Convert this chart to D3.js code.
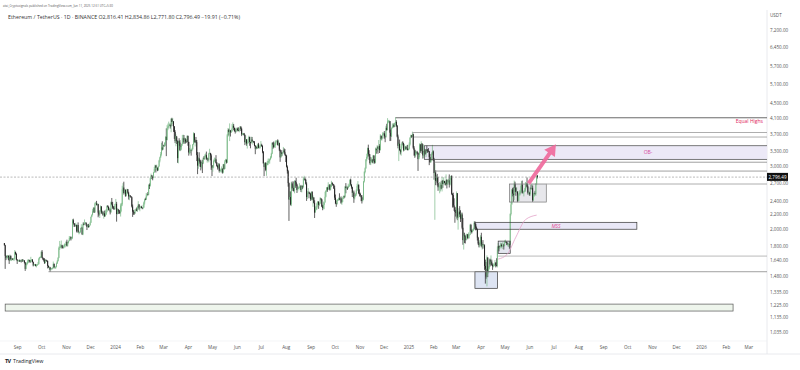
<!DOCTYPE html>
<html>
<head>
<meta charset="utf-8">
<script src="https://cdn.jsdelivr.net/npm/d3@7"></script>
<style>
  body { margin: 0; background: #fff; }
  svg { display: block; font-family: "Open Sans", "Noto Sans", sans-serif; }
</style>
</head>
<body>
<div id="chart"></div>
<script>
// ETH/USDT daily candles, 2023-08-16 .. 2025-06-11 (one line per month)
var firstDay = "2023-08-16";
var firstOpen = 1830;

var closes = [
  1805,1685,1665,1670,1685,1670,1635,1685,1650,1655,1645,1655,1655,1730,1705,1645,
  1630,1635,1635,1630,1635,1632,1645,1635,1635,1615,1550,1590,1605,1625,1640,1635,1620,1640,1645,1620,1585,1595,1595,1580,1585,1595,1600,1655,1670,1670,
  1730,1665,1655,1645,1610,1645,1635,1630,1580,1565,1565,1540,1550,1555,1560,1600,1565,1565,1570,1605,1630,1665,1775,1785,1790,1805,1780,1775,1795,1810,1815,
  1845,1800,1830,1855,1890,1900,1885,1890,2120,2080,2055,2045,2055,1980,2055,1960,1960,1965,2015,2020,1935,2065,2060,2080,2085,2060,2030,2045,2030,2050,
  2085,2165,2195,2245,2295,2230,2360,2360,2340,2350,2225,2200,2255,2315,2220,2230,2195,2215,2175,2200,2240,2325,2310,2265,2270,2230,2380,2345,2300,2290,2280,
  2350,2355,2205,2270,2265,2240,2220,2330,2345,2585,2615,2525,2575,2475,2510,2585,2530,2470,2490,2470,2455,2315,2240,2235,2215,2265,2270,2255,2315,2345,2285,
  2305,2310,2295,2290,2300,2375,2425,2420,2485,2505,2500,2660,2645,2775,2825,2805,2785,2880,2945,3015,2970,2970,2920,2995,3110,3175,3240,3385,3340,
  3430,3420,3485,3625,3550,3815,3870,3890,3910,3875,4065,3985,4000,3875,3735,3525,3640,3520,3160,3520,3490,3330,3390,3455,3590,3590,3495,3560,3515,3505,3645,
  3505,3275,3310,3330,3320,3350,3450,3700,3505,3545,3500,3220,3010,3155,3100,3085,2985,3065,3055,3155,3145,3200,3220,3140,3155,3130,3255,3260,3215,3015,
  2970,2990,3100,3120,3135,3065,3005,2975,3035,2910,2910,2930,2950,2880,3035,2945,3090,3125,3070,3660,3790,3735,3780,3725,3750,3825,3890,3840,3765,3745,3760,
  3815,3780,3765,3810,3865,3810,3680,3680,3705,3665,3500,3560,3470,3480,3565,3620,3505,3480,3560,3515,3520,3495,3420,3355,3395,3370,3450,3375,3380,3430,
  3440,3415,3295,3055,2985,3065,2930,3020,3065,3100,3100,3135,3175,3250,3485,3445,3390,3430,3505,3520,3535,3440,3480,3335,3175,3275,3250,3270,3320,3280,3230,
  3205,2990,2905,2690,2420,2460,2345,2685,2600,2610,2555,2720,2705,2665,2575,2595,2615,2620,2640,2575,2630,2625,2765,2765,2745,2680,2460,2525,2530,2525,2515,
  2425,2540,2425,2450,2370,2225,2270,2300,2360,2390,2340,2360,2440,2420,2315,2295,2340,2375,2465,2560,2615,2580,2650,2655,2580,2630,2695,2675,2655,2600,
  2450,2365,2350,2415,2415,2440,2420,2440,2370,2385,2440,2475,2465,2630,2605,2610,2605,2640,2645,2750,2665,2620,2525,2535,2440,2480,2505,2565,2640,2660,2520,
  2510,2490,2455,2400,2420,2720,2890,2960,3130,3185,3370,3245,3185,3060,3105,3130,3075,3210,3105,3070,3355,3325,3390,3360,3415,3325,3650,3575,3595,3700,
  3705,3640,3615,3840,3785,4000,4005,4005,3720,3635,3835,3885,3910,3865,3960,3985,3890,3630,3420,3465,3330,3280,3410,3490,3485,3330,3330,3400,3350,3360,3330,
  3355,3450,3605,3655,3630,3685,3380,3325,3215,3265,3280,3265,3140,3225,3450,3310,3470,3310,3215,3280,3325,3240,3335,3315,3310,3300,3180,3080,3115,3250,3300,
  3130,2870,2880,2730,2785,2690,2620,2630,2630,2660,2600,2735,2675,2725,2695,2660,2745,2670,2720,2740,2665,2765,2815,2510,2490,2330,2310,2235,
  2225,2520,2155,2170,2240,2200,2140,2200,2020,1865,1920,1910,1865,1910,1935,1890,1925,1930,2055,1980,1965,1985,2005,2080,2065,2010,2000,1895,1825,1805,1820,
  1905,1795,1815,1805,1805,1580,1550,1475,1670,1520,1565,1645,1595,1625,1590,1575,1585,1585,1615,1585,1580,1755,1795,1770,1785,1810,1795,1800,1800,1795,
  1840,1840,1835,1810,1815,1815,1810,2205,2345,2580,2515,2490,2680,2610,2545,2545,2400,2500,2525,2530,2550,2665,2525,2530,2550,2565,2660,2680,2630,2530,2530,
  2505,2605,2595,2610,2410,2485,2525,2510,2680,2816.41,2796.49
];

var highs = [
  1830,1810,1690,1690,1695,1690,1690,1700,1690,1665,1660,1660,1665,1750,1730,1715,
  1650,1640,1645,1645,1640,1645,1650,1650,1640,1640,1620,1615,1615,1645,1650,1645,1640,1675,1650,1650,1625,1600,1600,1600,1595,1600,1620,1665,1675,1680,
  1735,1750,1670,1660,1660,1650,1640,1640,1635,1585,1575,1570,1560,1560,1565,1625,1605,1580,1575,1615,1640,1670,1790,1855,1815,1860,1810,1790,1810,1825,1820,
  1850,1870,1835,1860,1915,1910,1910,1900,2135,2140,2080,2070,2085,2060,2060,2090,1985,1970,2020,2065,2030,2090,2090,2130,2095,2090,2065,2070,2070,2055,
  2100,2170,2200,2275,2300,2305,2375,2385,2400,2365,2355,2240,2260,2330,2320,2255,2250,2220,2255,2260,2275,2330,2335,2315,2295,2285,2390,2445,2385,2320,2320,
  2355,2430,2385,2290,2280,2265,2255,2360,2370,2645,2690,2715,2585,2585,2545,2595,2590,2545,2500,2480,2475,2465,2345,2265,2240,2275,2285,2300,2325,2395,2350,
  2310,2325,2325,2305,2340,2390,2435,2450,2525,2515,2540,2670,2685,2790,2860,2835,2805,2890,2985,3030,3015,3030,2975,3000,3125,3190,3285,3485,3520,
  3450,3440,3500,3630,3825,3905,3945,3995,3945,3945,4085,4095,4085,4010,3880,3780,3680,3610,3540,3535,3590,3545,3430,3465,3665,3675,3665,3610,3590,3565,3655,
  3650,3510,3370,3445,3340,3375,3460,3730,3715,3560,3620,3550,3285,3175,3280,3125,3125,3095,3125,3175,3200,3235,3255,3295,3175,3165,3270,3355,3270,3250,
  3020,3015,3130,3170,3165,3220,3080,3025,3060,3055,2940,2955,2995,2960,3045,3040,3120,3145,3135,3690,3835,3815,3950,3770,3800,3935,3975,3935,3840,3820,3845,
  3835,3845,3850,3830,3885,3880,3840,3715,3710,3715,3680,3655,3570,3520,3580,3650,3625,3510,3625,3620,3550,3525,3525,3435,3430,3410,3470,3485,3410,3455,
  3525,3465,3430,3305,3050,3080,3075,3065,3105,3150,3150,3150,3200,3270,3495,3500,3515,3485,3540,3540,3545,3565,3545,3490,3340,3290,3325,3285,3395,3365,3350,
  3240,3220,3015,2930,2700,2555,2550,2710,2720,2650,2720,2740,2735,2785,2680,2640,2630,2690,2650,2660,2650,2650,2795,2820,2790,2765,2705,2555,2605,2550,2540,
  2520,2550,2555,2485,2460,2410,2315,2325,2375,2400,2390,2375,2460,2440,2430,2340,2390,2380,2545,2570,2620,2625,2705,2670,2675,2670,2730,2705,2680,2670,
  2645,2500,2405,2425,2430,2450,2520,2460,2470,2415,2465,2480,2485,2640,2690,2645,2630,2680,2660,2755,2770,2670,2630,2560,2565,2490,2520,2585,2680,2725,2670,
  2585,2530,2480,2490,2465,2725,2905,2975,3140,3250,3380,3445,3325,3240,3125,3175,3140,3225,3220,3140,3380,3360,3430,3420,3550,3455,3685,3650,3615,3735,
  3725,3760,3675,3890,3940,4085,4035,4040,4010,3795,3850,3945,3955,3945,3970,4107,4030,3910,3675,3495,3560,3350,3460,3510,3520,3460,3455,3420,3410,3435,3440,
  3360,3495,3610,3675,3660,3745,3700,3415,3340,3320,3300,3310,3280,3240,3475,3455,3520,3475,3450,3450,3360,3350,3350,3425,3350,3370,3310,3245,3165,3280,3440,
  3320,3165,3050,2920,2830,2855,2800,2660,2710,2700,2730,2795,2740,2795,2730,2720,2845,2760,2735,2770,2845,2780,2820,2830,2520,2530,2440,2300,
  2265,2550,2525,2220,2290,2320,2260,2225,2225,2150,1960,1955,1925,1940,1945,1940,1960,1935,2070,2070,1995,2000,2020,2105,2105,2075,2035,2010,1905,1845,1865,
  1925,1955,1840,1865,1820,1815,1645,1620,1690,1665,1575,1655,1655,1690,1645,1605,1605,1600,1640,1615,1660,1790,1830,1800,1805,1835,1825,1835,1840,1820,
  1860,1870,1850,1845,1835,1830,1850,2215,2385,2590,2610,2620,2735,2715,2615,2620,2555,2510,2555,2575,2650,2725,2735,2560,2565,2605,2710,2690,2790,2650,2550,
  2545,2620,2660,2680,2650,2525,2535,2560,2690,2840,2834.86
];

var lows = [
  1800,1550,1640,1650,1660,1640,1600,1630,1640,1630,1640,1640,1630,1645,1695,1640,
  1600,1625,1625,1620,1620,1615,1620,1620,1630,1605,1530,1545,1585,1600,1610,1625,1610,1615,1625,1615,1575,1580,1585,1575,1565,1580,1590,1595,1645,1665,
  1670,1660,1640,1625,1600,1605,1630,1620,1555,1560,1545,1521,1535,1545,1545,1555,1555,1555,1550,1565,1600,1625,1660,1750,1770,1770,1765,1770,1765,1780,1780,
  1800,1790,1790,1825,1850,1870,1860,1870,1880,2070,2030,2030,2040,1960,1975,1955,1935,1945,1955,2010,1930,1925,2050,2055,2075,2045,1990,2020,2020,2025,
  2050,2085,2160,2185,2225,2220,2225,2350,2330,2330,2160,2180,2150,2240,2205,2215,2180,2140,2165,2170,2190,2230,2295,2255,2255,2200,2225,2330,2280,2270,2265,
  2265,2345,2100,2200,2205,2210,2205,2170,2240,2320,2555,2500,2515,2465,2470,2500,2515,2420,2410,2455,2450,2300,2165,2195,2195,2205,2250,2245,2235,2300,2265,
  2245,2290,2290,2275,2275,2295,2345,2410,2415,2470,2485,2490,2590,2630,2765,2760,2740,2775,2875,2900,2880,2925,2905,2915,2990,3075,3165,3210,3320,
  3335,3395,3400,3420,3200,3540,3780,3830,3885,3820,3730,3880,3935,3740,3575,3480,3410,3460,3065,3055,3420,3305,3310,3335,3420,3555,3460,3465,3470,3490,3495,
  3420,3210,3240,3260,3210,3300,3335,3445,3485,3405,3480,3100,2850,2950,3050,2990,2920,2955,2870,3040,3125,3130,3175,3120,3070,3100,3075,3245,3115,2930,
  2815,2895,2960,3085,3070,3050,2990,2935,2955,2880,2880,2900,2880,2860,2865,2935,2950,3085,3050,3060,3625,3655,3525,3630,3720,3750,3815,3780,3745,3700,3725,
  3755,3755,3755,3730,3780,3760,3640,3670,3665,3650,3435,3460,3420,3360,3470,3540,3420,3365,3470,3495,3445,3490,3410,3240,3335,3350,3355,3365,3365,3360,
  3425,3395,3260,3050,2815,2975,2905,2820,3020,3020,3050,3050,3125,3155,3240,3350,3375,3390,3375,3490,3445,3425,3420,3305,3085,3170,3195,3210,3300,3250,3210,
  3080,2975,2860,2630,2110,2420,2330,2320,2560,2580,2550,2520,2610,2640,2525,2550,2590,2600,2570,2540,2535,2590,2610,2745,2730,2665,2400,2430,2515,2440,2505,
  2400,2410,2410,2310,2360,2150,2240,2260,2270,2330,2280,2325,2350,2405,2305,2260,2275,2275,2375,2455,2540,2545,2575,2590,2565,2570,2620,2650,2645,2590,
  2415,2350,2310,2345,2400,2405,2410,2410,2355,2340,2380,2430,2440,2450,2520,2585,2575,2600,2625,2630,2645,2595,2460,2475,2370,2420,2465,2480,2555,2615,2505,
  2470,2470,2395,2360,2390,2415,2700,2865,2950,3095,3150,3210,3125,3030,3020,3085,3060,3040,3070,3045,3065,3250,3290,3250,3335,3265,3320,3545,3540,3580,
  3660,3580,3500,3605,3765,3785,3965,3950,3525,3530,3620,3820,3835,3850,3860,3905,3865,3610,3365,3100,3310,3235,3210,3365,3435,3300,3320,3325,3330,3325,3320,
  3320,3335,3425,3590,3600,3620,3355,3210,3165,3185,3230,3240,2910,3135,3175,3270,3300,3250,3150,3160,3200,3235,3180,3270,3270,3295,3020,3070,3065,3100,3230,
  3100,2750,2125,2655,2715,2650,2560,2575,2520,2550,2585,2550,2610,2665,2690,2650,2650,2600,2665,2700,2615,2650,2745,2490,2300,2300,2250,2085,
  2170,2140,2120,1995,2145,2165,2095,2140,2000,1810,1755,1830,1825,1860,1905,1875,1885,1885,1925,1960,1945,1960,1975,2000,2035,1985,1995,1860,1810,1780,1780,
  1800,1780,1755,1765,1780,1540,1410,1455,1385,1470,1505,1545,1575,1600,1580,1540,1565,1575,1580,1565,1575,1565,1745,1735,1760,1780,1780,1760,1785,1755,
  1795,1830,1830,1805,1790,1785,1765,1810,2185,2345,2470,2385,2415,2545,2480,2525,2380,2390,2400,2480,2500,2550,2515,2515,2470,2545,2545,2600,2620,2500,2500,
  2480,2480,2580,2590,2385,2400,2465,2490,2480,2655,2771.80
];

var priceTicks = [7200, 6450, 5700, 5100, 4500, 4100, 3700, 3300, 3000, 2700, 2400, 2200, 2000, 1800, 1640, 1480, 1335, 1225, 1135, 1035];
var lastPrice = 2796.49;

// drawings: horizontal levels [from, price] (run to the right edge)
var levels = [
  ["2023-10-10", 1522],
  ["2024-12-16", 4095],
  ["2025-01-06", 3725],
  ["2025-01-08", 3618],
  ["2025-02-03", 3077],
  ["2025-02-03", 2907],
  ["2025-06-22", 2675],
  ["2025-04-23", 1683]
];
// boxes [from, to, top, bottom]; to = null means right edge
var zones = [
  ["2023-08-17", "2026-02-10", 1236, 1182],
  ["2025-01-21", null, 3421, 3135],
  ["2025-03-25", "2025-10-13", 2091, 2000],
  ["2025-03-25", "2025-04-22", 1522, 1368],
  ["2025-04-23", "2025-05-08", 1853, 1713],
  ["2025-05-07", "2025-06-22", 2675, 2382]
];
var curvePoints = [["2025-04-23", 1651], ["2025-05-04", 1700], ["2025-05-15", 1900], ["2025-05-27", 2127], ["2025-06-10", 2190]];
var arrowFrom = ["2025-05-31", 2686];
var arrowTo = ["2025-07-04", 3452];

// ---------------------------------------------------------------
var width = 800, height = 370;
var plotRight = 767, plotTop = 10, plotBottom = 341;

var svg = d3.select("#chart").append("svg")
  .attr("width", width)
  .attr("height", height);

var parseDay = d3.utcParse("%Y-%m-%d");
var start = parseDay(firstDay);

// crypto trades 24/7, so each daily open is the previous close
var candles = closes.map(function(c, i) {
  return {
    date: d3.utcDay.offset(start, i),
    open: i ? closes[i - 1] : firstOpen,
    high: highs[i],
    low: lows[i],
    close: c
  };
});

var x = d3.scaleUtc()
  .domain([parseDay("2024-01-01"), parseDay("2026-01-01")])
  .range([115, 701]);

var y = d3.scaleLog()
  .domain([1035, 7200])
  .range([331.7, 30]);

svg.append("defs").append("clipPath").attr("id", "clip")
  .append("rect")
  .attr("x", 0).attr("y", plotTop)
  .attr("width", plotRight).attr("height", plotBottom - plotTop);

// frame
svg.append("line").attr("x1", plotRight).attr("x2", plotRight).attr("y1", plotTop).attr("y2", 354)
  .attr("stroke", "#e3e5ea").attr("stroke-width", 0.8);
svg.append("line").attr("x1", 0).attr("x2", plotRight).attr("y1", plotBottom).attr("y2", plotBottom)
  .attr("stroke", "#eceef2").attr("stroke-width", 0.6);
svg.append("line").attr("x1", 0).attr("x2", width).attr("y1", 354).attr("y2", 354)
  .attr("stroke", "#e3e5ea").attr("stroke-width", 0.8);

var plot = svg.append("g").attr("clip-path", "url(#clip)");

var zoneFill = ["#eef5ec", "#ece9f7", "#e9e8f7", "#dde4f3", "#e3e6ef", "#e7e7eb"];
var zoneStroke = ["#555", "#444", "#333", "#333", "#333", "#777"];

function zx(v) { return v === null ? plotRight + 2 : x(parseDay(v)); }

plot.append("g")
  .selectAll("rect")
  .data(zones)
  .enter()
  .append("rect")
  .attr("x", function(d) { return zx(d[0]); })
  .attr("y", function(d) { return y(d[2]); })
  .attr("width", function(d) { return zx(d[1]) - zx(d[0]); })
  .attr("height", function(d) { return y(d[3]) - y(d[2]); })
  .attr("fill", function(d, i) { return zoneFill[i]; });

// candles
var upColor = "#79b986", downColor = "#1c1c1c";
function colorOf(d) { return d.close >= d.open ? upColor : downColor; }

plot.append("g")
  .selectAll("line")
  .data(candles)
  .enter()
  .append("line")
  .attr("x1", function(d) { return x(d.date); })
  .attr("x2", function(d) { return x(d.date); })
  .attr("y1", function(d) { return y(d.high); })
  .attr("y2", function(d) { return y(d.low); })
  .attr("stroke", colorOf)
  .attr("stroke-width", 0.7);

plot.append("g")
  .selectAll("rect")
  .data(candles)
  .enter()
  .append("rect")
  .attr("x", function(d) { return x(d.date) - 0.45; })
  .attr("width", 0.9)
  .attr("y", function(d) { return y(Math.max(d.open, d.close)); })
  .attr("height", function(d) { return Math.max(0.6, Math.abs(y(d.open) - y(d.close))); })
  .attr("fill", colorOf);

// zone borders on top
plot.append("g")
  .selectAll("rect")
  .data(zones)
  .enter()
  .append("rect")
  .attr("x", function(d) { return zx(d[0]); })
  .attr("y", function(d) { return y(d[2]); })
  .attr("width", function(d) { return zx(d[1]) - zx(d[0]); })
  .attr("height", function(d) { return y(d[3]) - y(d[2]); })
  .attr("fill", "none")
  .attr("stroke", function(d, i) { return zoneStroke[i]; })
  .attr("stroke-width", 0.7);

var levelColors = ["#888", "#444", "#999", "#999", "#888", "#888", "#999", "#aaa"];
plot.append("g")
  .selectAll("line")
  .data(levels)
  .enter()
  .append("line")
  .attr("x1", function(d) { return x(parseDay(d[0])); })
  .attr("x2", plotRight)
  .attr("y1", function(d) { return y(d[1]); })
  .attr("y2", function(d) { return y(d[1]); })
  .attr("stroke", function(d, i) { return levelColors[i]; })
  .attr("stroke-width", 0.8);

// current price dashed line
plot.append("line")
  .attr("x1", 0).attr("x2", plotRight)
  .attr("y1", y(lastPrice)).attr("y2", y(lastPrice))
  .attr("stroke", "#8a8a8a")
  .attr("stroke-width", 0.6)
  .attr("stroke-dasharray", "2,1.5");

// pink curve
plot.append("path")
  .datum(curvePoints)
  .attr("fill", "none")
  .attr("stroke", "#e3a3c9")
  .attr("stroke-width", 0.8)
  .attr("d", d3.line()
    .curve(d3.curveMonotoneX)
    .x(function(d) { return x(parseDay(d[0])); })
    .y(function(d) { return y(d[1]); }));

// arrow
(function() {
  var x0 = x(parseDay(arrowFrom[0])), y0 = y(arrowFrom[1]);
  var x1 = x(parseDay(arrowTo[0])), y1 = y(arrowTo[1]);
  var dx = x1 - x0, dy = y1 - y0, len = Math.sqrt(dx * dx + dy * dy);
  var ux = dx / len, uy = dy / len, nx = -uy, ny = ux;
  var sw = 2, hw = 6.5, hl = 11;
  var bx = x1 - ux * hl, by = y1 - uy * hl;
  var pts = [
    [x0 + nx * sw, y0 + ny * sw], [bx + nx * sw, by + ny * sw], [bx + nx * hw, by + ny * hw],
    [x1, y1],
    [bx - nx * hw, by - ny * hw], [bx - nx * sw, by - ny * sw], [x0 - nx * sw, y0 - ny * sw]
  ];
  plot.append("path")
    .attr("d", "M" + pts.map(function(p) { return p.join(","); }).join("L") + "Z")
    .attr("fill", "#ef6a9c")
    .attr("fill-opacity", 0.92);
})();

// drawing labels
plot.append("text")
  .attr("x", 763).attr("y", y(4095) + 5.5)
  .attr("text-anchor", "end")
  .attr("font-size", "5px")
  .attr("fill", "#e0245e")
  .text("Equal Highs");

plot.append("text")
  .attr("x", 648).attr("y", (y(3421) + y(3135)) / 2 + 1.8)
  .attr("text-anchor", "middle")
  .attr("font-size", "5px")
  .attr("fill", "#d64aa0")
  .text("OB-");

plot.append("text")
  .attr("x", 556).attr("y", (y(2091) + y(2000)) / 2 + 1.8)
  .attr("text-anchor", "middle")
  .attr("font-size", "5px")
  .attr("font-style", "italic")
  .attr("fill", "#e0428a")
  .text("MSS");

// price axis
var yAxis = svg.append("g")
  .attr("transform", "translate(" + plotRight + ",0)")
  .call(d3.axisRight(y).tickValues(priceTicks).tickFormat(d3.format(",.2f")).tickSize(0).tickPadding(3));
yAxis.select(".domain").remove();
yAxis.selectAll("text")
  .attr("font-size", "4.6px")
  .attr("font-family", "'Open Sans', sans-serif")
  .attr("fill", "#555");

svg.append("text")
  .attr("x", 770).attr("y", 17)
  .attr("font-size", "4.6px")
  .attr("fill", "#555")
  .text("USDT");

svg.append("rect")
  .attr("x", plotRight).attr("y", y(lastPrice) - 4.2)
  .attr("width", 21).attr("height", 8)
  .attr("fill", "#111");
svg.append("text")
  .attr("x", plotRight + 1.5).attr("y", y(lastPrice) + 1.6)
  .attr("font-size", "4.5px")
  .attr("fill", "#fff")
  .attr("textLength", 18)
  .attr("lengthAdjust", "spacingAndGlyphs")
  .text(d3.format(",.2f")(lastPrice));

// time axis
var months = d3.utcMonth.range(parseDay("2023-09-01"), parseDay("2026-03-02"));
var xAxis = svg.append("g")
  .attr("transform", "translate(0," + plotBottom + ")")
  .call(d3.axisBottom(x).tickValues(months).tickSize(0).tickPadding(5)
    .tickFormat(function(d) { return d.getUTCMonth() === 0 ? d3.utcFormat("%Y")(d) : d3.utcFormat("%b")(d); }));
xAxis.select(".domain").remove();
xAxis.selectAll("text")
  .attr("font-size", "4.6px")
  .attr("font-family", "'Open Sans', sans-serif")
  .attr("fill", "#555");

// header
svg.append("text")
  .attr("x", 3).attr("y", 7)
  .attr("font-size", "3.6px")
  .attr("fill", "#555")
  .attr("textLength", 110)
  .attr("lengthAdjust", "spacingAndGlyphs")
  .text("atai_Cryptosignals published on TradingView.com, Jun 11, 2025 12:51 UTC+5:30");

svg.append("text")
  .attr("x", 8).attr("y", 19)
  .attr("font-size", "4.4px")
  .attr("fill", "#333")
  .attr("textLength", 232)
  .attr("lengthAdjust", "spacingAndGlyphs")
  .text("Ethereum / TetherUS · 1D · BINANCE  O2,816.41 H2,834.86 L2,771.80 C2,796.49 −19.91 (−0.71%)");

// footer logo
svg.append("text")
  .attr("x", 5).attr("y", 362.5)
  .attr("font-size", "5.5px")
  .attr("font-weight", "bold")
  .attr("fill", "#131722")
  .attr("letter-spacing", "-0.6px")
  .text("TV");
svg.append("text")
  .attr("x", 13).attr("y", 362.5)
  .attr("font-size", "5.3px")
  .attr("fill", "#131722")
  .text("TradingView");
</script>
</body>
</html>
